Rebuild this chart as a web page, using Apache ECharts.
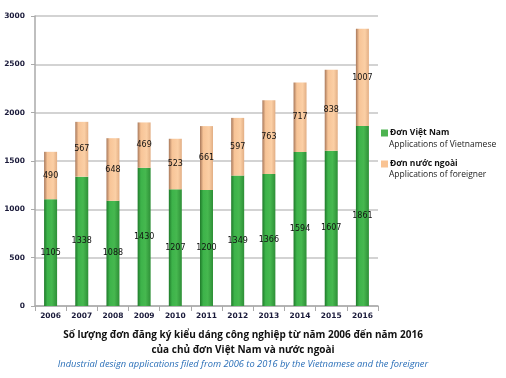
<!DOCTYPE html>
<html><head><meta charset="utf-8">
<script src="https://cdn.jsdelivr.net/npm/echarts@6/dist/echarts.min.js"></script>
<style>html,body{margin:0;padding:0;background:#fff}#c{width:506px;height:378px}</style>
</head><body><div id="c"></div>
<script>
var years = ['2006','2007','2008','2009','2010','2011','2012','2013','2014','2015','2016'];
var vietnamese = [1105,1338,1088,1430,1207,1200,1349,1366,1594,1607,1861];
var foreigner = [490,567,648,469,523,661,597,763,717,838,1007];
var yTicks = [0,500,1000,1500,2000,2500,3000];

var chart = echarts.init(document.getElementById('c'));
var greenGrad = new echarts.graphic.LinearGradient(0,0,1,0,[
  {offset:0,color:'#1f7a2a'},{offset:0.25,color:'#3db34a'},{offset:0.6,color:'#46b84f'},{offset:1,color:'#2e8f37'}]);
var orangeGrad = new echarts.graphic.LinearGradient(0,0,1,0,[
  {offset:0,color:'#a8785a'},{offset:0.25,color:'#f7c497'},{offset:0.7,color:'#fbcfa5'},{offset:1,color:'#e2ae84'}]);
var lbl = {show:true,position:'inside',color:'#111',fontSize:8,fontFamily:'DejaVu Sans',fontWeight:'normal'};
chart.setOption({
  animation:false,
  grid:{left:35,right:128,top:16,bottom:72},
  xAxis:{type:'category',data:years,
    axisLine:{lineStyle:{color:'#aaa',width:1.5}},
    axisTick:{show:true,alignWithLabel:false,lineStyle:{color:'#aaa'}},
    axisLabel:{color:'#1a1a3a',fontSize:7.5,fontWeight:'bold',fontFamily:'DejaVu Sans',margin:6}},
  yAxis:{type:'value',min:0,max:3000,interval:500,
    axisLine:{show:true,lineStyle:{color:'#aaa',width:1.5}},
    axisTick:{show:true,length:4,lineStyle:{color:'#aaa'}},
    splitLine:{lineStyle:{color:'#c4c4c4',width:1.5}},
    axisLabel:{color:'#1a1a3a',fontSize:7.5,fontWeight:'bold',fontFamily:'DejaVu Sans',margin:10,
      formatter:function(v){return yTicks.indexOf(v)>=0?String(v):'';}}},
  legend:{orient:'vertical',left:376,top:122,itemWidth:7,itemHeight:7,itemGap:19,
    icon:'rect',
    data:[{name:'Đơn Việt Nam',itemStyle:{color:'#4cb350'}},{name:'Đơn nước ngoài',itemStyle:{color:'#f9c393'}}],
    textStyle:{fontSize:8.5,fontWeight:'bold',color:'#111',fontFamily:'Open Sans',lineHeight:12,padding:[0,0,0,-3]}},
  series:[
    {name:'Đơn Việt Nam',type:'bar',stack:'a',barWidth:13,data:vietnamese,
      itemStyle:{color:greenGrad},label:lbl},
    {name:'Đơn nước ngoài',type:'bar',stack:'a',barWidth:13,data:foreigner,
      itemStyle:{color:orangeGrad},label:lbl}
  ],
  graphic:[
    {type:'text',x:389,y:140,style:{text:'Applications of Vietnamese',fontSize:8.5,fontFamily:'Open Sans',fill:'#222'}},
    {type:'text',x:389,y:170,style:{text:'Applications of foreigner',fontSize:8.5,fontFamily:'Open Sans',fill:'#222'}},
    {type:'text',x:243,y:328,style:{text:'Số lượng đơn đăng ký kiểu dáng công nghiệp từ năm 2006 đến năm 2016\ncủa chủ đơn Việt Nam và nước ngoài',
      align:'center',fontSize:10,fontWeight:'bold',fontFamily:'Open Sans',fill:'#111',lineHeight:15}},
    {type:'text',x:243,y:360,style:{text:'Industrial design applications filed from 2006 to 2016 by the Vietnamese and the foreigner',
      align:'center',fontSize:9.3,fontStyle:'italic',fontFamily:'Open Sans',fill:'#2a6fb8'}}
  ]
});
</script></body></html>
